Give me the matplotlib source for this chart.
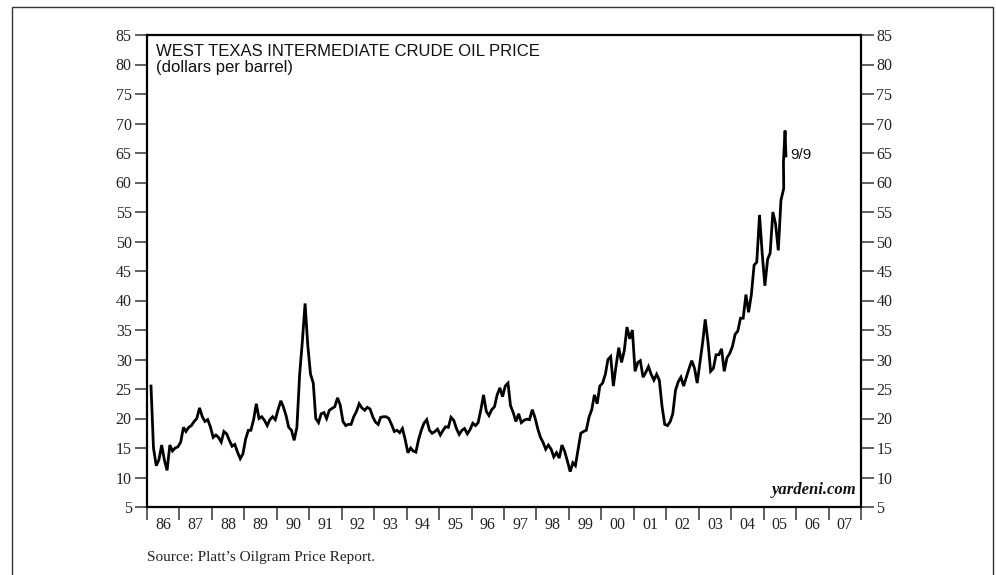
import numpy as np
import pandas as pd
import matplotlib
matplotlib.use("Agg")
import matplotlib.pyplot as plt
from matplotlib.patches import Rectangle

# WTI crude, monthly readings (dollars per barrel), Jan 1986 - Jul 2005
wti_monthly = [
    # 1986
    25.5, 15.0, 12.0, 13.0, 15.5, 13.0, 11.2, 15.5, 14.5, 15.0, 15.2, 16.0,
    # 1987
    18.5, 17.8, 18.5, 18.8, 19.5, 20.0, 21.8, 20.3, 19.5, 19.8, 18.6, 16.8,
    # 1988
    17.2, 16.8, 16.0, 17.8, 17.4, 16.3, 15.3, 15.6, 14.3, 13.2, 14.0, 16.5,
    # 1989
    18.0, 18.0, 19.8, 22.5, 20.0, 20.3, 19.7, 18.8, 19.8, 20.3, 19.8, 21.5,
    # 1990
    23.0, 22.0, 20.5, 18.5, 18.0, 16.3, 18.5, 27.5, 33.0, 39.5, 32.5, 27.5,
    # 1991
    26.0, 20.0, 19.3, 20.8, 21.0, 20.0, 21.4, 21.7, 22.0, 23.5, 22.3, 19.5,
    # 1992
    18.8, 19.0, 19.0, 20.3, 21.2, 22.5, 21.8, 21.4, 21.9, 21.6, 20.3, 19.4,
    # 1993
    19.0, 20.2, 20.3, 20.3, 20.0, 19.0, 17.8, 18.0, 17.6, 18.3, 16.5, 14.2,
    # 1994
    15.0, 14.5, 14.3, 16.4, 18.0, 19.2, 19.8, 18.0, 17.5, 17.8, 18.2, 17.2,
    # 1995
    18.0, 18.6, 18.5, 20.2, 19.7, 18.3, 17.3, 18.0, 18.3, 17.4, 18.1, 19.2,
    # 1996
    18.8, 19.3, 21.5, 24.0, 21.2, 20.5, 21.5, 22.0, 24.0, 25.2, 23.7, 25.5,
    # 1997
    26.0, 22.2, 21.0, 19.5, 20.8, 19.3, 19.7, 19.9, 19.8, 21.5, 20.2, 18.3,
    # 1998
    16.8, 16.0, 14.8, 15.5, 14.8, 13.5, 14.2, 13.3, 15.5, 14.4, 12.8, 11.0,
    # 1999
    12.5, 12.0, 14.8, 17.5, 17.8, 18.0, 20.2, 21.5, 24.0, 22.5, 25.5, 26.0,
    # 2000
    27.5, 30.0, 30.5, 25.5, 29.0, 32.0, 29.5, 31.5, 35.5, 33.5, 35.0, 28.0,
    # 2001
    29.5, 29.8, 27.0, 27.8, 28.8, 27.5, 26.5, 27.5, 26.5, 22.0, 19.0, 18.8,
    # 2002
    19.5, 20.8, 24.8, 26.2, 27.0, 25.5, 27.0, 28.5, 29.8, 28.5, 26.0, 29.5,
    # 2003
    33.0, 36.8, 33.0, 28.0, 28.5, 30.8, 30.8, 31.8, 28.0, 30.3, 31.0, 32.2,
    # 2004
    34.3, 34.8, 37.0, 37.0, 41.0, 38.0, 41.0, 46.0, 46.5, 54.5, 48.0, 42.5,
    # 2005
    47.0, 48.0, 55.0, 53.0, 48.5, 57.0, 59.0,
]
# last few weekly readings
tail_dates = ["2005-08-12", "2005-08-30", "2005-09-09"]
tail_values = [63.5, 68.8, 64.5]

year_labels = ["86", "87", "88", "89", "90", "91", "92", "93", "94", "95", "96",
               "97", "98", "99", "00", "01", "02", "03", "04", "05", "06", "07"]


def to_decimal_year(ts):
    ts = pd.DatetimeIndex(ts)
    start = pd.to_datetime(ts.year.astype(str) + "-01-01")
    return ts.year + (ts - start).days / 365.25


dates = pd.date_range("1986-01-15", periods=len(wti_monthly), freq="MS") + pd.Timedelta(days=14)
x = np.concatenate([to_decimal_year(dates), to_decimal_year(pd.to_datetime(tail_dates))])
y = np.array(wti_monthly + tail_values)

serif = "Liberation Serif"
sans = "Liberation Sans"
tick_fs = 11.5

fig = plt.figure(figsize=(9.96, 5.75), dpi=100)
ax = fig.add_axes([147 / 996, 1 - 507 / 575, (861 - 147) / 996, (507 - 35) / 575])

ax.plot(x, y, color="black", lw=2.0, solid_joinstyle="miter")

ax.set_xlim(1986, 2008)
ax.set_ylim(5, 85)

# y axis on both sides
ax.set_yticks(np.arange(5, 86, 5))
ax.tick_params(axis="y", which="both", direction="out", length=9, width=1.2,
               left=True, right=True, labelleft=True, labelright=True,
               labelsize=tick_fs, labelcolor="#222222", color="#444444", pad=2)

# year boundaries as ticks, labels in the middle of each year
ax.set_xticks(np.arange(1986, 2009))
ax.set_xticklabels([])
ax.set_xticks(np.arange(1986, 2008) + 0.5, minor=True)
ax.set_xticklabels(year_labels, minor=True)
ax.tick_params(axis="x", which="major", direction="out", length=9, width=1.2, color="#444444")
ax.tick_params(axis="x", which="minor", length=0, labelsize=tick_fs, labelcolor="#222222", pad=7)

for lab in ax.get_xticklabels(minor=True):
    lab.set_fontfamily(serif)
for t in ax.yaxis.get_major_ticks():
    t.label1.set_fontfamily(serif)
    t.label2.set_fontfamily(serif)

for sp in ax.spines.values():
    sp.set_linewidth(1.6)
    sp.set_color("black")

ax.text(0.012, 0.981, "WEST TEXAS INTERMEDIATE CRUDE OIL PRICE", transform=ax.transAxes,
        ha="left", va="top", fontsize=12, family=sans, color="#111111")
ax.text(0.012, 0.946, "(dollars per barrel)", transform=ax.transAxes,
        ha="left", va="top", fontsize=12, family=sans, color="#111111")
ax.annotate("9/9", xy=(x[-1], y[-1]), xytext=(3, 1), textcoords="offset points",
            ha="left", va="center", fontsize=11, family=sans, color="#111111")
ax.text(0.993, 0.02, "yardeni.com", transform=ax.transAxes, ha="right", va="bottom",
        fontsize=12, family=serif, style="italic", weight="bold", color="#111111")

fig.text(147 / 996, 1 - 557 / 575, "Source: Platt\u2019s Oilgram Price Report.",
         ha="left", va="center", fontsize=11, family=serif, color="#222222")

# thin outer frame of the exhibit (open at the bottom)
fig.patches.append(Rectangle((12 / 996, -0.05), (993 - 12) / 996, 1.05 - 7 / 575,
                             transform=fig.transFigure, fill=False, lw=1.0,
                             edgecolor="#333333"))

fig.savefig("out.png", dpi=100)
